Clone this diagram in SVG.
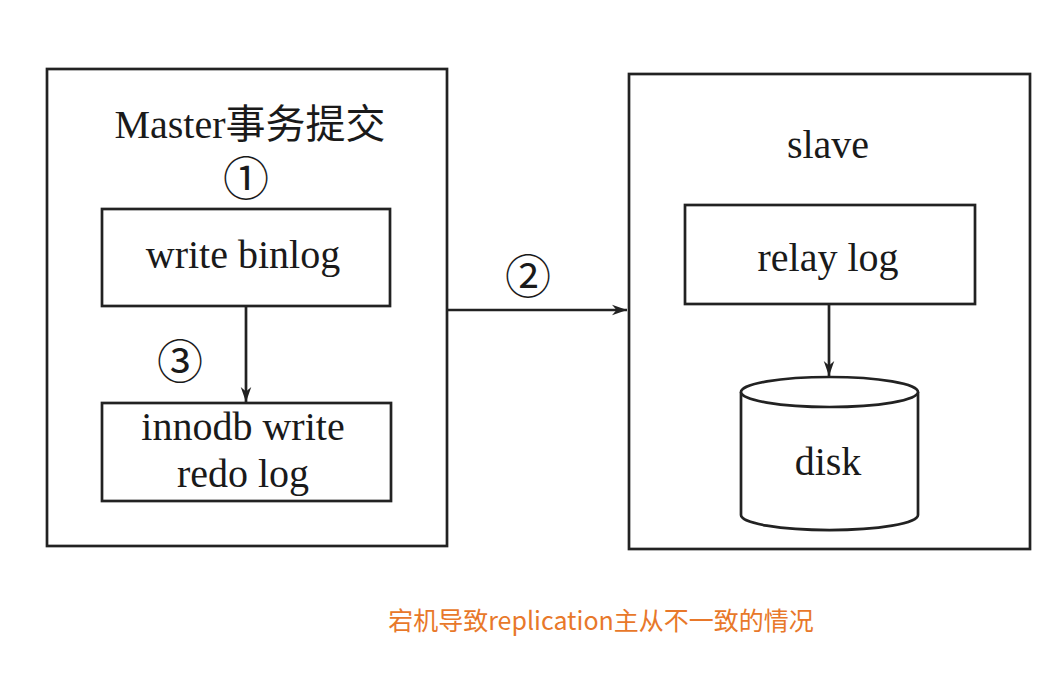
<svg xmlns="http://www.w3.org/2000/svg" width="1046" height="696" viewBox="0 0 1046 696">
<style>
.box{fill:#fff;stroke:#222;stroke-width:2.7}
.t{font-family:"Liberation Serif","Noto Sans CJK SC",serif;font-size:40px;fill:#1a1a1a;text-anchor:middle}
.n{font-family:"DejaVu Serif","Noto Sans CJK SC",serif;font-size:46px;fill:#1a1a1a;text-anchor:middle}
.e{fill:none;stroke:#222;stroke-width:2.7}
.cap{font-family:"Noto Sans CJK SC","Noto Sans",sans-serif;font-size:25px;fill:#E8782A;text-anchor:middle}
</style>
<defs>
<marker id="arr2" viewBox="0 0 10 10" refX="10" refY="5" markerWidth="15" markerHeight="15" markerUnits="userSpaceOnUse" orient="auto">
<path d="M0,1.5 L10,5 L0,8.5 L3,5 z" fill="#222"/>
</marker>
</defs>
<rect width="1046" height="696" fill="#fff"/>
<g id="master">
<rect class="box" x="47" y="69" width="400" height="477"/>
<text class="t" x="250" y="138">Master事务提交</text>
</g>
<g id="n1"><text class="n" x="246" y="195">①</text></g>
<g id="writebinlog">
<rect class="box" x="102" y="209" width="288" height="97"/>
<text class="t" x="243" y="268">write binlog</text>
</g>
<g id="n3"><text class="n" x="180" y="378">③</text></g>
<g id="innodb">
<rect class="box" x="102" y="403" width="289" height="98"/>
<text class="t" x="243" y="440">innodb write</text>
<text class="t" x="243" y="487">redo log</text>
</g>
<g id="n2"><text class="n" x="528" y="293">②</text></g>
<g id="slave">
<rect class="box" x="629" y="74" width="401" height="475"/>
<text class="t" x="828" y="158">slave</text>
</g>
<g id="relaylog">
<rect class="box" x="685" y="205" width="290" height="99"/>
<text class="t" x="828" y="271">relay log</text>
</g>
<g id="disk">
<path class="box" d="M741,392 L741,515 A88,15 0 0 0 918,515 L918,392"/>
<ellipse class="box" cx="829.5" cy="392" rx="88.5" ry="15"/>
<text class="t" x="828" y="475">disk</text>
</g>
<g id="connectors">
<line class="e" x1="246" y1="306" x2="246" y2="402" marker-end="url(#arr2)"/>
<line class="e" x1="447" y1="310" x2="627" y2="310" marker-end="url(#arr2)"/>
<line class="e" x1="829" y1="304" x2="829" y2="376" marker-end="url(#arr2)"/>
</g>
<g id="caption"><text class="cap" x="601" y="630">宕机导致replication主从不一致的情况</text></g>
</svg>
